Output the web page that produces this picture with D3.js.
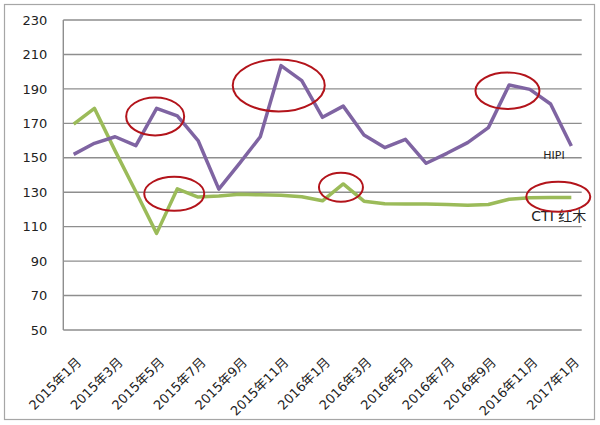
<!DOCTYPE html>
<html><head><meta charset="utf-8">
<script src="https://cdn.jsdelivr.net/npm/d3@7"></script>
<style>
html,body{margin:0;padding:0;background:#fff;}
svg{display:block;}
text{font-family:"DejaVu Sans","Noto Sans CJK SC",sans-serif;}
</style></head>
<body>
<svg id="chart" width="600" height="425"></svg>
<script>
const months = ["2015年1月","2015年2月","2015年3月","2015年4月","2015年5月","2015年6月","2015年7月","2015年8月","2015年9月","2015年10月","2015年11月","2015年12月",
"2016年1月","2016年2月","2016年3月","2016年4月","2016年5月","2016年6月","2016年7月","2016年8月","2016年9月","2016年10月","2016年11月","2016年12月","2017年1月"];
const hipi = [152,158.4,162.2,157,178.7,174.3,160,131.8,146.8,162.2,203.5,194.8,173.5,180,163.2,155.9,160.7,146.8,152.6,158.8,167.5,192.3,189.7,181.2,156.8];
const cti  = [169.6,178.7,154,130.3,106.1,132,127.2,127.8,128.8,128.5,128.2,127.4,125,134.8,124.8,123.3,123.2,123.1,122.8,122.4,122.9,125.9,126.8,127,127];
const yTicks = [50,70,90,110,130,150,170,190,210,230];
const seriesNames = ["HIPI","CTI 红木"];
// annotation ellipses: [category position (center), value (center), rx, ry]
const circles = [
  [3.93, 174.0, 29, 19],
  [4.85, 129.1, 30, 17],
  [9.89, 192.0, 46, 26],
  [12.89, 132.9, 22, 14.5],
  [20.92, 188.9, 32, 18.2],
  [23.37, 127.4, 32, 15]
];

const svg = d3.select("#chart");
const L = 63.3, R = 581.7, T = 20, B = 330;
const x = d3.scalePoint().domain(months).range([L, R]).padding(0.5);
const y = d3.scaleLinear().domain([50, 230]).range([B, T]);
const step = x.step();
const xi = i => x(months[0]) + i * step;

// outer border
svg.append("rect").attr("x", 4.5).attr("y", 4.5).attr("width", 590).attr("height", 415)
  .attr("fill", "none").attr("stroke", "#a6a6a6").attr("stroke-width", 1.2);

// gridlines
svg.append("g").selectAll("line").data(yTicks).join("line")
  .attr("x1", L).attr("x2", R).attr("y1", d => y(d)).attr("y2", d => y(d))
  .attr("stroke", "#8e8e8e").attr("stroke-width", 1.4);
// left axis line
svg.append("line").attr("x1", L).attr("x2", L).attr("y1", T).attr("y2", B)
  .attr("stroke", "#8e8e8e").attr("stroke-width", 1.4);

// y axis labels
const yAxis = svg.append("g").attr("transform", `translate(${L},0)`)
  .call(d3.axisLeft(y).tickValues(yTicks).tickSize(0).tickPadding(16));
yAxis.select(".domain").remove();
yAxis.selectAll("text").attr("font-size", 13).attr("fill", "#222")
  .style("font-family", "'DejaVu Sans',sans-serif");

// x axis labels
const xAxis = svg.append("g").attr("transform", `translate(0,${B})`)
  .call(d3.axisBottom(x).tickValues(months.filter((d, i) => i % 2 === 0)).tickSize(0));
xAxis.select(".domain").remove();
xAxis.selectAll("text")
  .attr("font-size", 13).attr("fill", "#222")
  .attr("text-anchor", "end")
  .attr("dy", null).attr("y", null)
  .attr("transform", "translate(8,33) rotate(-45)");

// lines
const line = d3.line().x((d, i) => x(months[i])).y(d => y(d));
svg.append("path").datum(cti).attr("d", line).attr("fill", "none")
  .attr("stroke", "#9bbb59").attr("stroke-width", 3.5).attr("stroke-linejoin", "round");
svg.append("path").datum(hipi).attr("d", line).attr("fill", "none")
  .attr("stroke", "#7f64a2").attr("stroke-width", 3.5).attr("stroke-linejoin", "round");

// series labels
svg.append("text").attr("x", x(months[24]) - 28).attr("y", y(hipi[24]) + 13)
  .attr("font-size", 11).attr("fill", "#222").text(seriesNames[0]);
svg.append("text").attr("x", x(months[24]) - 40).attr("y", y(cti[24]) + 24)
  .attr("font-size", 14).attr("fill", "#222").text(seriesNames[1]);

// red annotation ellipses
svg.append("g").selectAll("ellipse").data(circles).join("ellipse")
  .attr("cx", d => xi(d[0])).attr("cy", d => y(d[1]))
  .attr("rx", d => d[2]).attr("ry", d => d[3])
  .attr("fill", "none").attr("stroke", "#b3141b").attr("stroke-width", 2);
</script>
</body></html>
